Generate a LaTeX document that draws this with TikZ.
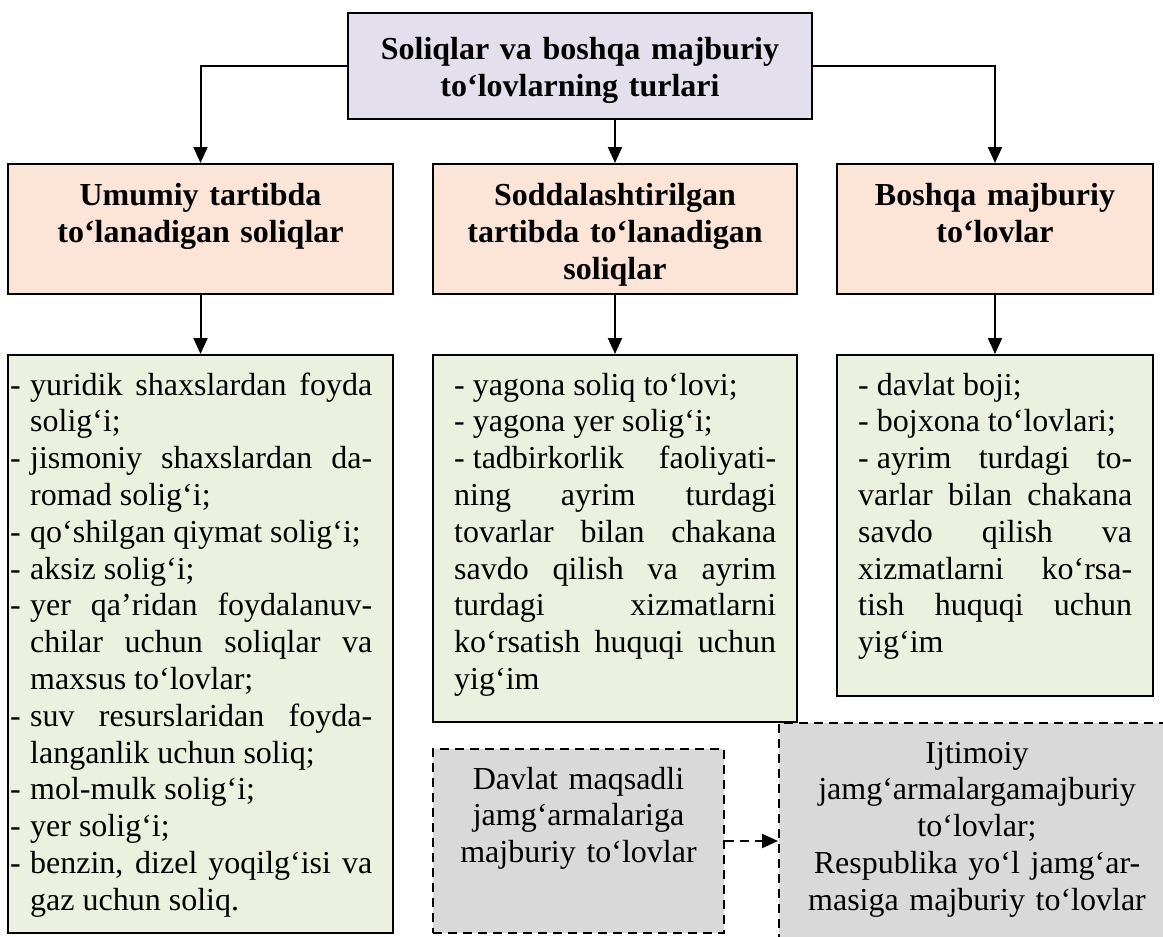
\documentclass[tikz,border=0pt]{standalone}
\usepackage{fontspec}
\setmainfont{Liberation Serif}
\usetikzlibrary{arrows.meta,calc}
\definecolor{lav}{HTML}{E4DFEC}
\definecolor{peach}{HTML}{FCE4D6}
\definecolor{lgreen}{HTML}{EBF1DE}
\definecolor{lgray}{HTML}{D9D9D9}
\newcommand\lfirst{\hangindent=20pt\hangafter=1\makebox[20pt][l]{-}\ignorespaces}
\newcommand\litem{\par\noindent\lfirst}
\newcommand\jset{\parindent=0pt\tolerance=10000\hyphenpenalty=10000\exhyphenpenalty=10000\relax}
\newcommand\dsh{-\hspace{8pt}\ignorespaces}
\tikzset{
 box/.style={draw=black, line width=2pt, rectangle, inner sep=0pt},
 dbox/.style={draw=black, line width=2pt, dash pattern=on 9pt off 6pt, rectangle, inner sep=0pt, fill=lgray},
 arr/.style={line width=2pt, -{Triangle[length=16pt,width=14pt]}},
 txt/.style={inner sep=0pt, font=\fontsize{32pt}{36.8pt}\selectfont},
 hdr/.style={txt, font=\fontsize{32pt}{37pt}\selectfont\bfseries, align=center, anchor=base},
 list/.style={txt, align=justify, anchor=base west},
 ctxt/.style={txt, align=center, anchor=base},
}
\begin{document}
\begin{tikzpicture}[x=1pt,y=-1pt]
\useasboundingbox (0,0) rectangle (1163,937);
\clip (0,0) rectangle (1163,937);
% boxes
\node[box, fill=lav, minimum width=464pt, minimum height=106pt] (top) at (580,66) {};
\node[box, fill=peach, minimum width=385pt, minimum height=130pt] (h1) at (200.5,229) {};
\node[box, fill=peach, minimum width=364pt, minimum height=130pt] (h2) at (615,229) {};
\node[box, fill=peach, minimum width=316pt, minimum height=130pt] (h3) at (995,229) {};
\node[box, fill=lgreen, minimum width=385pt, minimum height=578pt] (b1) at (200.5,644) {};
\node[box, fill=lgreen, minimum width=364pt, minimum height=367pt] (b2) at (615,538.5) {};
\node[box, fill=lgreen, minimum width=316pt, minimum height=341pt] (b3) at (995,525.5) {};
\node[dbox, minimum width=291pt, minimum height=184pt] (d1) at (578.5,841) {};
\node[dbox, minimum width=396pt, minimum height=227pt] (d2) at (977,836.5) {};
% texts
\node[hdr, text width=450pt] (ttop) at (580,59) {Soliqlar va boshqa majburiy\\ to‘lovlarning turlari};
\node[hdr, text width=370pt] (th1) at (200.5,205) {Umumiy tartibda\\ to‘lanadigan soliqlar};
\node[hdr, text width=350pt] (th2) at (615,205) {Soddalashtirilgan\\ tartibda to‘lanadigan\\ soliqlar};
\node[hdr, text width=300pt] (th3) at (995,205) {Boshqa majburiy\\ to‘lovlar};
\node[list, text width=362pt] (tb1) at (10,395) {\jset%
\lfirst yuridik shaxslardan foyda\linebreak solig‘i;
\litem jismoniy shaxslardan da-\linebreak romad solig‘i;
\litem qo‘shilgan qiymat solig‘i;
\litem aksiz solig‘i;
\litem yer qa’ridan foydalanuv-\linebreak chilar uchun soliqlar va\linebreak maxsus to‘lovlar;
\litem suv resurslaridan foyda-\linebreak langanlik uchun soliq;
\litem mol-mulk solig‘i;
\litem yer solig‘i;
\litem benzin, dizel yoqilg‘isi va\linebreak gaz uchun soliq.\par};
\node[list, text width=322pt] (tb2) at (454,395) {\jset%
\dsh yagona soliq to‘lovi;\par
\dsh yagona yer solig‘i;\par
\dsh tadbirkorlik faoliyati-\linebreak ning ayrim turdagi\linebreak tovarlar bilan chakana\linebreak savdo qilish va ayrim\linebreak turdagi xizmatlarni\linebreak ko‘rsatish huquqi uchun\linebreak yig‘im\par};
\node[list, text width=274pt] (tb3) at (858,395) {\jset%
\dsh davlat boji;\par
\dsh bojxona to‘lovlari;\par
\dsh ayrim turdagi to-\linebreak varlar bilan chakana\linebreak savdo qilish va\linebreak xizmatlarni ko‘rsa-\linebreak tish huquqi uchun\linebreak yig‘im\par};
\node[ctxt, text width=270pt] (td1) at (578.5,789) {Davlat maqsadli\\ jamg‘armalariga\\ majburiy to‘lovlar};
\node[ctxt, text width=345pt] (td2) at (977,763) {Ijtimoiy\\ jamg‘armalargamajburiy\\ to‘lovlar;\\ Respublika yo‘l jamg‘ar-\\ masiga majburiy to‘lovlar};
% connectors
\draw[arr] (top.west) -| (h1.north);
\draw[arr] (top.east) -| (h3.north);
\draw[arr] (top.south -| h2.north) -- (h2.north);
\draw[arr] (h1.south) -- (b1.north);
\draw[arr] (h2.south) -- (b2.north);
\draw[arr] (h3.south) -- (b3.north);
\draw[arr, dash pattern=on 9pt off 6pt] (d1.east) -- (d1.east -| d2.west);
\end{tikzpicture}
\end{document}
